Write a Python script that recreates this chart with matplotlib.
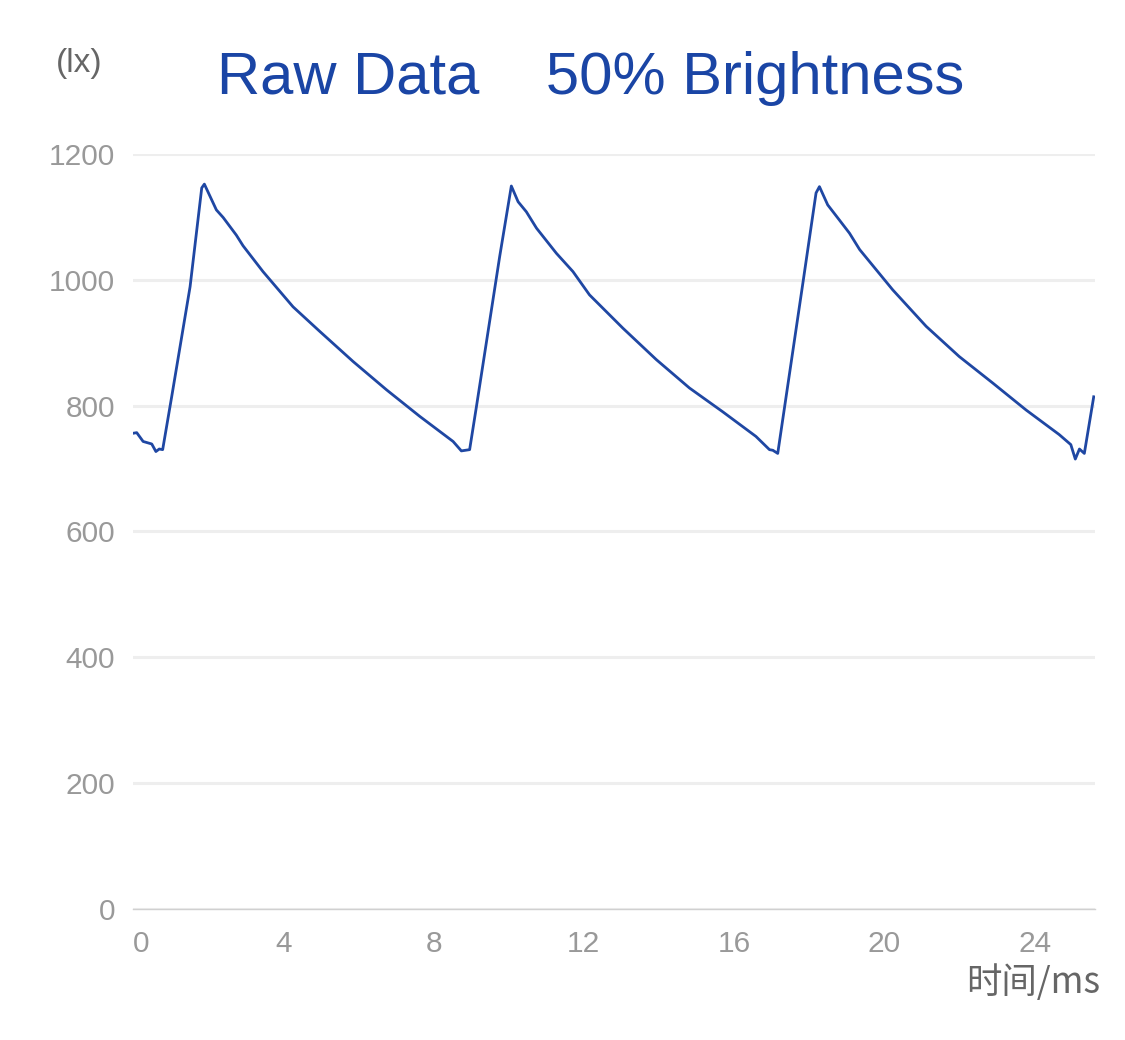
import matplotlib
matplotlib.use("Agg")
import matplotlib.pyplot as plt

# time (ms) and illuminance (lx)
t_ms = [0.00, 0.10, 0.27, 0.50, 0.61, 0.70, 0.79, 1.03, 1.52, 1.83, 1.90, 1.97,
        2.22, 2.40, 2.75, 2.93, 3.46, 4.26, 4.97, 5.86, 6.75, 7.63, 8.52, 8.74,
        8.96, 9.14, 9.76, 10.07, 10.25, 10.47, 10.74, 11.27, 11.71, 12.15, 13.04,
        13.93, 14.81, 15.70, 16.58, 16.94, 17.03, 17.16, 17.83, 18.18, 18.27,
        18.49, 18.80, 19.07, 19.34, 19.78, 20.22, 21.11, 21.99, 22.88, 23.77,
        24.65, 24.96, 25.08, 25.19, 25.32, 25.57]
lux = [756, 757, 743, 739, 727, 731, 730, 814, 989, 1146, 1152, 1143,
       1111, 1099, 1071, 1054, 1013, 957, 918, 870, 825, 783, 743, 728,
       730, 798, 1037, 1149, 1124, 1108, 1082, 1042, 1013, 976, 923,
       873, 828, 790, 751, 730, 729, 724, 995, 1138, 1148,
       1119, 1095, 1074, 1048, 1016, 984, 926, 878, 836, 793,
       754, 738, 715, 731, 724, 814]

x_ticks = [0, 4, 8, 12, 16, 20, 24]
y_ticks = [0, 200, 400, 600, 800, 1000, 1200]

fig = plt.figure(figsize=(11.25, 10.4), dpi=100)
ax = fig.add_axes([0.1182, 0.126, 0.855, 0.726])

ax.plot(t_ms, lux, color="#1f47a3", linewidth=2.0)

ax.set_xlim(0, 25.6)
ax.set_ylim(0, 1200)
ax.set_xticks(x_ticks)
ax.set_yticks(y_ticks)
ax.set_xticklabels([str(v) for v in x_ticks], fontsize=21.5, color="#999999",
                   family="Liberation Sans")
ax.set_yticklabels([str(v) for v in y_ticks], fontsize=21.5, color="#999999",
                   family="Liberation Sans")
ax.get_xticklabels()[0].set_horizontalalignment("left")
ax.tick_params(axis="both", length=0)
ax.tick_params(axis="x", pad=15)
ax.tick_params(axis="y", pad=13)

ax.grid(axis="y", color="#eeeeee", linewidth=2.2)
ax.set_axisbelow(True)
for s in ["top", "right", "left"]:
    ax.spines[s].set_visible(False)
ax.spines["bottom"].set_color("#d0d0d0")
ax.spines["bottom"].set_linewidth(1.0)

fig.text(0.525, 0.925, "Raw Data    50% Brightness", fontsize=43,
         color="#1a45a5", ha="center", va="center", family="Liberation Sans")
fig.text(0.07, 0.939, "(lx)", fontsize=24, color="#666666",
         ha="center", va="center", family="Liberation Sans")
fig.text(0.978, 0.055, "时间/ms", fontsize=25.5, color="#666666", ha="right",
         va="center", family=["Noto Sans CJK SC", "DejaVu Sans"])

fig.savefig("out.png", dpi=100)
